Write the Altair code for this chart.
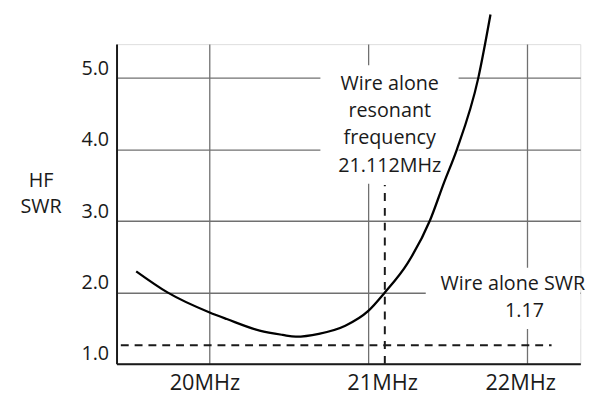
import altair as alt
import pandas as pd

# SWR curve
mhz = [19.537, 19.734, 20.0, 20.108, 20.315, 20.46, 20.543, 20.688, 20.855,
       21.0, 21.103, 21.248, 21.389, 21.476, 21.558, 21.693, 21.770]
swr = [2.295, 2.0, 1.719, 1.627, 1.465, 1.405, 1.38, 1.42, 1.534,
       1.741, 1.996, 2.41, 3.01, 3.53, 4.0, 5.0, 5.89]

y_ticks = [1, 2, 3, 4, 5]
x_ticks = [20, 21, 22]
x_tick_labels = ["20MHz", "21MHz", "22MHz"]
x_label_at = [19.97, 21.09, 21.96]

res_freq = 21.104          # drawn vertical dashed line
res_top = 3.505
wire_swr = 1.26            # drawn horizontal dashed line
hdash_from, hdash_to = 19.44, 22.155

x_dom = [19.413, 22.336]
y_dom = [1.0, 5.476]

FONT = "Open Sans"
INK = "#1a1a1a"

curve_df = pd.DataFrame({"f": mhz, "s": swr})
xlab_df = pd.DataFrame({"f": x_label_at, "t": x_tick_labels})

xs = alt.Scale(domain=x_dom, nice=False, zero=False)
ys = alt.Scale(domain=y_dom, nice=False, zero=False)

base = alt.Chart(curve_df)

grid = base.mark_point(opacity=0).encode(
    x=alt.X("f:Q", scale=xs,
            axis=alt.Axis(values=x_ticks, labels=False, ticks=False, title=None,
                          grid=True, gridColor="#707070", gridWidth=1.3,
                          domainColor=INK, domainWidth=2)),
    y=alt.Y("s:Q", scale=ys,
            axis=alt.Axis(values=y_ticks, format=".1f", ticks=False, tickSize=0,
                          grid=True, gridColor="#707070", gridWidth=1.3,
                          domainColor=INK, domainWidth=2,
                          labelFont=FONT, labelFontSize=20, labelColor=INK,
                          labelBaseline="alphabetic", labelPadding=8, labelOffset=-4,
                          title=["HF", "SWR"], titleAngle=0, titleAlign="center",
                          titleBaseline="middle", titleX=-77, titleY=138,
                          titleFont=FONT, titleFontSize=20, titleFontWeight="normal",
                          titleColor=INK, titleLineHeight=27)),
)

box1 = alt.Chart().mark_rect(color="white").encode(
    x=alt.datum(20.698, scale=xs), x2=alt.datum(21.569),
    y=alt.datum(5.181, scale=ys), y2=alt.datum(3.521))
box2 = alt.Chart().mark_rect(color="white").encode(
    x=alt.datum(21.362, scale=xs), x2=alt.datum(22.336),
    y=alt.datum(2.346, scale=ys), y2=alt.datum(1.488))

line = base.mark_line(color="black", strokeWidth=2.3, interpolate="monotone").encode(
    x=alt.X("f:Q", scale=xs), y=alt.Y("s:Q", scale=ys))

hdash = alt.Chart().mark_rule(color=INK, strokeWidth=2, strokeDash=[8, 6]).encode(
    x=alt.datum(hdash_from, scale=xs), x2=alt.datum(hdash_to),
    y=alt.datum(wire_swr, scale=ys))
vdash = alt.Chart().mark_rule(color=INK, strokeWidth=2, strokeDash=[8, 7]).encode(
    x=alt.datum(res_freq, scale=xs),
    y=alt.datum(1.0, scale=ys), y2=alt.datum(res_top))

ann1 = alt.Chart().mark_text(font=FONT, fontSize=20, color=INK, align="center",
                             baseline="middle", lineHeight=27.7, lineBreak="\n").encode(
    x=alt.datum(21.135, scale=xs), y=alt.datum(4.923, scale=ys),
    text=alt.value("Wire alone\nresonant\nfrequency\n21.112MHz"))
ann2 = alt.Chart().mark_text(font=FONT, fontSize=20, color=INK, align="center",
                             baseline="middle").encode(
    x=alt.datum(21.911, scale=xs), y=alt.datum(2.111, scale=ys),
    text=alt.value("Wire alone SWR"))
ann3 = alt.Chart().mark_text(font=FONT, fontSize=20, color=INK, align="center",
                             baseline="middle").encode(
    x=alt.datum(21.984, scale=xs), y=alt.datum(1.741, scale=ys),
    text=alt.value("1.17"))

xlabels = alt.Chart(xlab_df).mark_text(font=FONT, fontSize=22, color=INK, align="center",
                                       baseline="alphabetic").encode(
    x=alt.X("f:Q", scale=xs), y=alt.datum(0.64, scale=ys), text="t:N")

chart = alt.layer(grid, box1, box2, line, hdash, vdash, ann1, ann2, ann3, xlabels).properties(
    width=470, height=324,
    autosize=alt.AutoSizeParams(type="none"),
    padding={"left": 110, "top": 34, "right": 21, "bottom": 29},
).configure_view(stroke=None).configure(background="white")

chart.save("out.html", embed_options={"renderer": "svg", "actions": False})
